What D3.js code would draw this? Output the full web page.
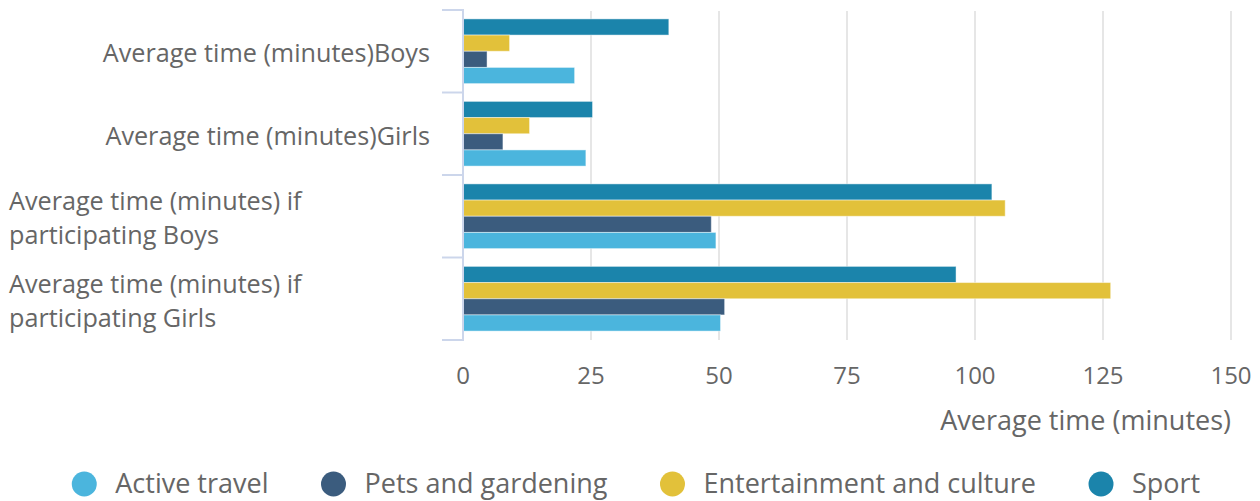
<!DOCTYPE html>
<html><head><meta charset="utf-8">
<script src="https://cdn.jsdelivr.net/npm/d3@7"></script>
<style>
html,body{margin:0;padding:0;background:#fff;}
svg{display:block;font-family:"Open Sans",sans-serif;}
</style></head>
<body><svg id="chart" width="1260" height="501"></svg>
<script>
const categories = [
  "Average time (minutes)Boys",
  "Average time (minutes)Girls",
  "Average time (minutes) if participating Boys",
  "Average time (minutes) if participating Girls"
];
const seriesNames = ["Active travel", "Pets and gardening", "Entertainment and culture", "Sport"];
const seriesColors = ["#4bb5dd", "#3b5c7e", "#e2c13a", "#1b84ab"];
const activeTravel = [21.7, 23.9, 49.3, 50.2];
const petsGardening = [4.6, 7.7, 48.4, 51.0];
const entertainment = [9.0, 12.9, 105.8, 126.4];
const sport = [40.1, 25.2, 103.2, 96.2];
const xTicks = [0, 25, 50, 75, 100, 125, 150];
const xTitle = "Average time (minutes)";

const seriesValues = [activeTravel, petsGardening, entertainment, sport];
const svg = d3.select("#chart");
const textColor = "#666666";
const labelSize = 25.2, tickSize = 24, titleSize = 27, legendSize = 27;

const x = d3.scaleLinear().domain([0, 150]).range([463, 1231]);
const y = d3.scaleBand().domain(categories).range([10, 340]).padding(0);
// top to bottom: Sport, Entertainment, Pets, Active
const order = [3, 2, 1, 0];
const yInner = d3.scaleBand().domain(order).range([0, y.bandwidth()]).paddingInner(0).paddingOuter(0.55);

// gridlines
svg.append("g").selectAll("line").data(xTicks.filter(d => d > 0)).join("line")
  .attr("x1", d => x(d)).attr("x2", d => x(d))
  .attr("y1", 11).attr("y2", 340)
  .attr("stroke", "#e6e6e6").attr("stroke-width", 2);

// bars
const groups = svg.append("g").selectAll("g").data(categories).join("g")
  .attr("transform", d => `translate(0,${y(d)})`);
groups.selectAll("rect").data((c, i) => order.map(s => ({s, v: seriesValues[s][i]}))).join("rect")
  .attr("x", x(0) + 0.5)
  .attr("y", d => yInner(d.s))
  .attr("width", d => x(d.v) - x(0))
  .attr("height", yInner.bandwidth())
  .attr("fill", d => seriesColors[d.s])
  .attr("stroke", "rgba(255,255,255,0.45)")
  .attr("stroke-width", 1);

// y axis line and ticks
svg.append("line").attr("x1", 463).attr("x2", 463).attr("y1", 10).attr("y2", 341)
  .attr("stroke", "#ccd6eb").attr("stroke-width", 2);
const bounds = categories.map(c => y(c)).concat([y.range()[1]]);
svg.append("g").selectAll("line").data(bounds).join("line")
  .attr("x1", 442).attr("x2", 464).attr("y1", d => d).attr("y2", d => d)
  .attr("stroke", "#ccd6eb").attr("stroke-width", 2);

// y labels
const maxW = 421, rightX = 430, lineH = 34;
const yl = svg.append("g").attr("font-size", labelSize).attr("fill", textColor);
categories.forEach(c => {
  const cy = y(c) + y.bandwidth() / 2 + 2;
  const t = yl.append("text").text(c);
  if (t.node().getComputedTextLength() <= maxW) {
    t.attr("x", rightX).attr("y", cy).attr("dy", "0.35em").attr("text-anchor", "end");
  } else {
    t.text(null);
    const words = c.split(" ");
    const lines = [];
    let cur = [];
    words.forEach(w => {
      cur.push(w);
      t.text(cur.join(" "));
      if (t.node().getComputedTextLength() > maxW && cur.length > 1) {
        cur.pop(); lines.push(cur.join(" ")); cur = [w];
      }
    });
    lines.push(cur.join(" "));
    t.text(null);
    const y0 = cy - (lines.length - 1) * lineH / 2;
    lines.forEach((l, k) => t.append("tspan").attr("x", rightX - maxW).attr("y", y0 + k * lineH).attr("dy", "0.35em").text(l));
  }
});

// x axis
const xa = svg.append("g").attr("font-size", tickSize).attr("fill", textColor).attr("text-anchor", "middle");
xa.selectAll("text").data(xTicks).join("text")
  .attr("x", d => x(d)).attr("y", 376).attr("dy", "0.35em").text(d => d);
svg.append("text").attr("x", 1231).attr("y", 421).attr("dy", "0.35em")
  .attr("text-anchor", "end").attr("font-size", titleSize).attr("fill", textColor).text(xTitle);

// legend
const lg = svg.append("g").attr("font-size", legendSize).attr("fill", textColor);
const items = seriesNames.map((n, i) => {
  const g = lg.append("g");
  g.append("circle").attr("r", 12.5).attr("cx", 0).attr("cy", 0).attr("fill", seriesColors[i]);
  const t = g.append("text").attr("x", 31).attr("dy", "0.35em").text(n);
  return {g, w: 31 + t.node().getComputedTextLength()};
});
const gap = 65;
const total = items.reduce((a, it) => a + it.w, 0) + gap * (items.length - 1) + 12.5;
let cx = 636 - total / 2 + 12.5;
items.forEach(it => { it.g.attr("transform", `translate(${cx},484)`); cx += it.w + gap; });
</script></body></html>
